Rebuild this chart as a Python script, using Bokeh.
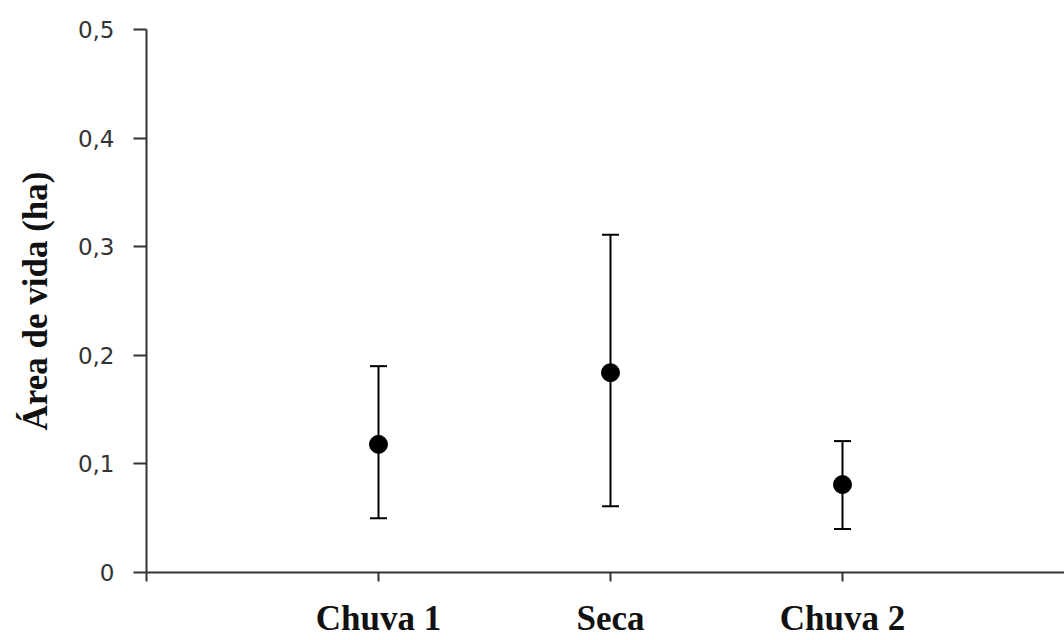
from bokeh.plotting import figure
from bokeh.models import ColumnDataSource, Whisker, FixedTicker, Range1d, TeeHead
from bokeh.embed import file_html
from bokeh.resources import INLINE

categories = ["Chuva 1", "Seca", "Chuva 2"]
means = [0.118, 0.184, 0.081]
upper = [0.190, 0.311, 0.121]
lower = [0.050, 0.061, 0.040]
y_ticks = [0, 0.1, 0.2, 0.3, 0.4, 0.5]
y_tick_labels = ["0", "0,1", "0,2", "0,3", "0,4", "0,5"]
y_title = "Área de vida (ha)"

xpos = [i + 1 for i in range(len(categories))]
src = ColumnDataSource(dict(x=xpos, y=means, upper=upper, lower=lower))

p = figure(width=1064, height=640, output_backend="svg", toolbar_location=None,
           x_range=Range1d(0, 3.957), y_range=Range1d(0, 0.5),
           min_border_left=146, min_border_right=0, min_border_top=29, min_border_bottom=68)
p.outline_line_color = None
p.xgrid.visible = False
p.ygrid.visible = False
p.background_fill_color = "white"
p.border_fill_color = "white"

w = Whisker(base="x", upper="upper", lower="lower", source=src,
            line_color="black", line_width=2,
            upper_head=TeeHead(size=17, line_color="black", line_width=2),
            lower_head=TeeHead(size=17, line_color="black", line_width=2))
p.add_layout(w)
p.scatter("x", "y", source=src, size=18, color="black")

# x axis
p.xaxis.ticker = FixedTicker(ticks=[0] + xpos + [len(categories) + 1])
p.xaxis.major_label_overrides = {0: "", len(categories) + 1: "", **{x: c for x, c in zip(xpos, categories)}}
p.xaxis.minor_tick_line_color = None
p.xaxis.major_tick_out = 9
p.xaxis.major_tick_in = 0
p.xaxis.axis_line_width = 2
p.xaxis.axis_line_color = "#333333"
p.xaxis.major_tick_line_width = 2
p.xaxis.major_tick_line_color = "#333333"
p.xaxis.major_label_text_font = "Liberation Serif"
p.xaxis.major_label_text_font_style = "bold"
p.xaxis.major_label_text_font_size = "35px"
p.xaxis.major_label_text_color = "#111111"
p.xaxis.major_label_standoff = 17

# y axis
p.yaxis.ticker = FixedTicker(ticks=y_ticks)
p.yaxis.major_label_overrides = {t: l for t, l in zip(y_ticks, y_tick_labels)}
p.yaxis.minor_tick_line_color = None
p.yaxis.major_tick_out = 13
p.yaxis.major_tick_in = 0
p.yaxis.axis_line_width = 2
p.yaxis.axis_line_color = "#333333"
p.yaxis.major_tick_line_width = 2
p.yaxis.major_tick_line_color = "#333333"
p.yaxis.major_label_text_font = "DejaVu Sans"
p.yaxis.major_label_text_font_size = "23px"
p.yaxis.major_label_text_color = "#333333"
p.yaxis.major_label_standoff = 19
p.yaxis.axis_label = y_title
p.yaxis.axis_label_text_font = "Liberation Serif"
p.yaxis.axis_label_text_font_style = "bold"
p.yaxis.axis_label_text_font_size = "35px"
p.yaxis.axis_label_text_color = "#111111"
p.yaxis.axis_label_standoff = 20

open("out.html", "w").write(file_html(p, INLINE))
